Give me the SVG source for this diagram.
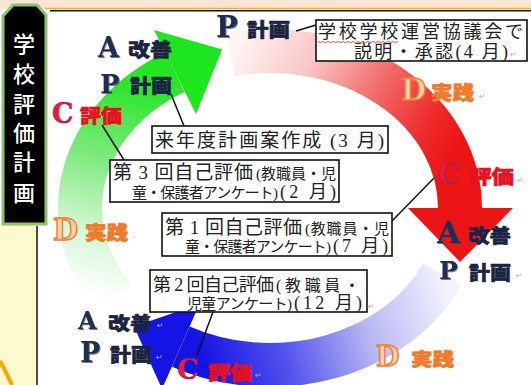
<svg xmlns="http://www.w3.org/2000/svg" width="531" height="385" viewBox="0 0 531 385">
<style>
.lt{font-family:"DejaVu Serif","Liberation Serif",serif;font-weight:bold}
.ap{fill:#1f2d52;filter:url(#sh)}
.c{fill:#e41e3c;stroke:#8a1a50;stroke-width:0.5}
.d{fill:#fbd3ae;stroke:#f07c2c;stroke-width:1.4}
.kj{font-family:"Noto Sans CJK JP",sans-serif;font-weight:900;stroke-width:0.6}
.nv{fill:#1a2442;stroke:#1a2442}
.rd{fill:#e8101c;stroke:#e8101c}
.or{fill:#f07a2a;stroke:#f07a2a}
.bx{fill:#fff;stroke:#111;stroke-width:1.6}
.bt{font-family:"Liberation Serif","Noto Sans CJK JP",serif;fill:#222}
.mk{font-family:"DejaVu Sans",sans-serif;font-size:8px;fill:#b0b0b0}
.ln{stroke:#111;stroke-width:1.5;fill:none}
</style>
<defs>
<filter id="sh" x="-20%" y="-20%" width="150%" height="150%"><feDropShadow dx="1" dy="1" stdDeviation="0.7" flood-color="#445" flood-opacity="0.7"/></filter>
<linearGradient id="gG" gradientUnits="userSpaceOnUse" x1="110" y1="300" x2="170" y2="60">
<stop offset="0" stop-color="#ffffff"/><stop offset="0.25" stop-color="#d4f7d4"/><stop offset="0.55" stop-color="#7eea7e"/><stop offset="0.85" stop-color="#2ee62e"/><stop offset="1" stop-color="#1ee61e"/>
</linearGradient>
<linearGradient id="gR" gradientUnits="userSpaceOnUse" x1="235" y1="50" x2="445" y2="170">
<stop offset="0" stop-color="#fff4f4"/><stop offset="0.3" stop-color="#f9c6c6"/><stop offset="0.6" stop-color="#f26868"/><stop offset="0.85" stop-color="#ee2a2a"/><stop offset="1" stop-color="#ec1515"/>
</linearGradient>
<linearGradient id="gB" gradientUnits="userSpaceOnUse" x1="445" y1="275" x2="200" y2="350">
<stop offset="0" stop-color="#f4f4ff"/><stop offset="0.35" stop-color="#b8b8f4"/><stop offset="0.7" stop-color="#5050ec"/><stop offset="1" stop-color="#1414e4"/>
</linearGradient>
</defs>

<!-- background -->
<rect x="0" y="0" width="531" height="385" fill="#ffffff"/>
<rect x="0" y="0" width="531" height="9" fill="#fbe4d5"/>
<line x1="45" y1="8.5" x2="531" y2="8.5" stroke="#f5b400" stroke-width="1.5"/>
<line x1="50" y1="10.8" x2="531" y2="10.8" stroke="#111" stroke-width="1.5"/>
<rect x="0" y="225" width="37" height="160" fill="#fffacd"/>
<line x1="37" y1="226" x2="37" y2="385" stroke="#111" stroke-width="1.5"/>
<path d="M0,361 Q7,374 12,385" fill="none" stroke="#f5a800" stroke-width="4"/>

<!-- title box -->
<g id="title">
<path d="M3,16 L13,5 L37,5 L46,15 L46,224 L3,224 Z" fill="#000" stroke="#8cc66a" stroke-width="3"/>
<text font-family="Noto Sans CJK JP,sans-serif" font-weight="500" font-size="22" fill="#fff" text-anchor="middle" dominant-baseline="central">
<tspan x="24" y="42">学</tspan><tspan x="24" y="72">校</tspan><tspan x="24" y="102">評</tspan><tspan x="24" y="131">価</tspan><tspan x="24" y="160">計</tspan><tspan x="24" y="191">画</tspan>
</text>
</g>

<!-- cycle arrows -->
<g id="arrow-green">
<path d="M114.4,298.1 A190,157 0 0 1 175,72" fill="none" stroke="url(#gG)" stroke-width="44"/>
<polygon points="154,30 222,49.6 196,114" fill="#1ee61e"/>
</g>
<g id="arrow-red">
<path d="M230.5,54.4 A190,157 0 0 1 460,208" fill="none" stroke="url(#gR)" stroke-width="44"/>
<polygon points="408,208 513,208 460,262" fill="#ec1515"/>
</g>
<g id="arrow-blue">
<path d="M442.2,274.4 A190,157 0 0 1 180.8,346.6" fill="none" stroke="url(#gB)" stroke-width="44"/>
<polygon points="199.5,304 162,389 134,326.5" fill="#1414e4"/>
</g>

<!-- connectors -->
<g id="connectors">
<line class="ln" x1="171" y1="94" x2="184" y2="126"/>
<line class="ln" x1="102" y1="125" x2="124" y2="160"/>
<line class="ln" x1="434" y1="178" x2="392" y2="221"/>
<line class="ln" x1="213" y1="312" x2="197" y2="355"/>
<line class="ln" x1="296" y1="31" x2="316" y2="25"/>
</g>

<!-- labels -->
<g id="lbl-tl-a"><text class="lt ap" x="98" y="57" font-size="27">A</text><text class="kj nv" x="128" y="57" font-size="19" textLength="44" lengthAdjust="spacingAndGlyphs">改善</text></g>
<g id="lbl-tl-p"><text class="lt ap" x="100" y="93" font-size="26">P</text><text class="kj nv" x="130" y="93" font-size="19" textLength="42" lengthAdjust="spacingAndGlyphs">計画</text><text class="mk" x="176" y="92">↵</text></g>
<g id="lbl-l-c"><text class="lt c" x="52" y="123" font-size="27">C</text><text class="kj rd" x="80" y="123" font-size="19" textLength="42" lengthAdjust="spacingAndGlyphs">評価</text><text class="mk" x="126" y="122">↵</text></g>
<g id="lbl-t-p"><text class="lt ap" x="216" y="37" font-size="29">P</text><text class="kj nv" x="247" y="37" font-size="19" textLength="43" lengthAdjust="spacingAndGlyphs">計画</text><text class="mk" x="290" y="36">、</text></g>
<g id="lbl-tr-d"><text class="lt d" x="401" y="100" font-size="29">D</text><text class="kj or" x="431" y="100" font-size="19" textLength="43" lengthAdjust="spacingAndGlyphs">実践</text><text class="mk" x="479" y="99">↵</text></g>
<g id="lbl-r-c"><text class="lt c" x="438" y="184" font-size="27">C</text><text class="kj rd" x="469" y="184" font-size="19" textLength="45" lengthAdjust="spacingAndGlyphs">評価</text><text class="mk" x="517" y="183">↵</text></g>
<g id="lbl-r-a"><text class="lt ap" x="437" y="243" font-size="30">A</text><text class="kj nv" x="468" y="243" font-size="19" textLength="43" lengthAdjust="spacingAndGlyphs">改善</text></g>
<g id="lbl-r-p"><text class="lt ap" x="439" y="279" font-size="25">P</text><text class="kj nv" x="469" y="280" font-size="19" textLength="42" lengthAdjust="spacingAndGlyphs">計画</text><text class="mk" x="516" y="278">↵</text></g>
<g id="lbl-b-d"><text class="lt d" x="376" y="366" font-size="27">D</text><text class="kj or" x="411" y="366" font-size="18" textLength="43" lengthAdjust="spacingAndGlyphs">実践</text><text class="mk" x="457" y="365">.</text></g>
<g id="lbl-bl-a"><text class="lt ap" x="78" y="329" font-size="24">A</text><text class="kj nv" x="108" y="330" font-size="18" textLength="44" lengthAdjust="spacingAndGlyphs">改善</text><text class="mk" x="157" y="328">↵</text></g>
<g id="lbl-bl-p"><text class="lt ap" x="80" y="362" font-size="27">P</text><text class="kj nv" x="110" y="362" font-size="19" textLength="42" lengthAdjust="spacingAndGlyphs">計画</text><text class="mk" x="156" y="360">↵</text></g>
<g id="lbl-b-c"><text class="lt c" x="177" y="379" font-size="27">C</text><text class="kj rd" x="208" y="380" font-size="19" textLength="44" lengthAdjust="spacingAndGlyphs">評価</text><text class="mk" x="255" y="378">↵</text></g>
<g id="lbl-l-d"><text class="lt d" x="53" y="240" font-size="29">D</text><text class="kj or" x="85" y="240" font-size="19" textLength="43" lengthAdjust="spacingAndGlyphs">実践</text><text class="mk" x="133" y="238">.</text></g>

<!-- boxes -->
<g id="box-council">
<rect class="bx" x="316" y="20" width="211" height="41"/>
<text class="bt" x="318" y="38" font-size="18" textLength="205">学校学校運営協議会で</text>
<path d="M318,41.5 l2.5,1.2 l2.5,-1.2 l2.5,1.2 l2.5,-1.2 l2.5,1.2 l2.5,-1.2 l2.5,1.2 l2.5,-1.2 l2.5,1.2 l2.5,-1.2 l2.5,1.2 l2.5,-1.2 l2.5,1.2 l2.5,-1.2 l2.5,1.2 l2.5,-1.2 l2.5,1.2 l2.5,-1.2 l2.5,1.2 l2.5,-1.2 l2.5,1.2 l2.5,-1.2 l2.5,1.2 l2.5,-1.2 l2.5,1.2 l2.5,-1.2 l2.5,1.2 l2.5,-1.2 l2.5,1.2 l2.5,-1.2 l2.5,1.2 l2.5,-1.2" fill="none" stroke="#e02020" stroke-width="0.8"/>
<text class="bt" x="354" y="57.5" font-size="18" textLength="154">説明・承認(4 月)</text>
<text class="mk" x="510" y="57">↵</text>
</g>
<g id="box-plan">
<rect class="bx" x="152" y="126" width="236" height="27"/>
<text class="bt" x="155" y="147" font-size="19" textLength="229">来年度計画案作成 (3 月)</text>
</g>
<g id="box-eval3">
<rect class="bx" x="110" y="160" width="229" height="42"/>
<text class="bt" x="113" y="179" font-size="19" textLength="140">第 3 回自己評価</text>
<text class="bt" x="256" y="179" font-size="15" textLength="80">(教職員・児</text>
<text class="bt" x="132" y="198" font-size="15" textLength="146">童・保護者アンケート)</text>
<text class="bt" x="280" y="198" font-size="18" textLength="56">(2 月)</text>
</g>
<g id="box-eval1">
<rect class="bx" x="162" y="213" width="230" height="43"/>
<text class="bt" x="165" y="234" font-size="19" textLength="137">第 1 回自己評価</text>
<text class="bt" x="305" y="234" font-size="15" textLength="84">(教職員・児</text>
<text class="bt" x="185" y="252" font-size="15" textLength="146">童・保護者アンケート)</text>
<text class="bt" x="333" y="252" font-size="18" textLength="55">(7 月)</text>
</g>
<g id="box-eval2">
<rect class="bx" x="150" y="270" width="217" height="42"/>
<text class="bt" x="153" y="291" font-size="18" textLength="121">第 2 回自己評価</text>
<text class="bt" x="276" y="291" font-size="16" textLength="84">(教職員・</text>
<text class="bt" x="187" y="309" font-size="15" textLength="105">児童アンケート)</text>
<text class="bt" x="294" y="309" font-size="18" textLength="68">(12 月)</text>
<text class="mk" x="368" y="309">↵</text>
</g>
</svg>
